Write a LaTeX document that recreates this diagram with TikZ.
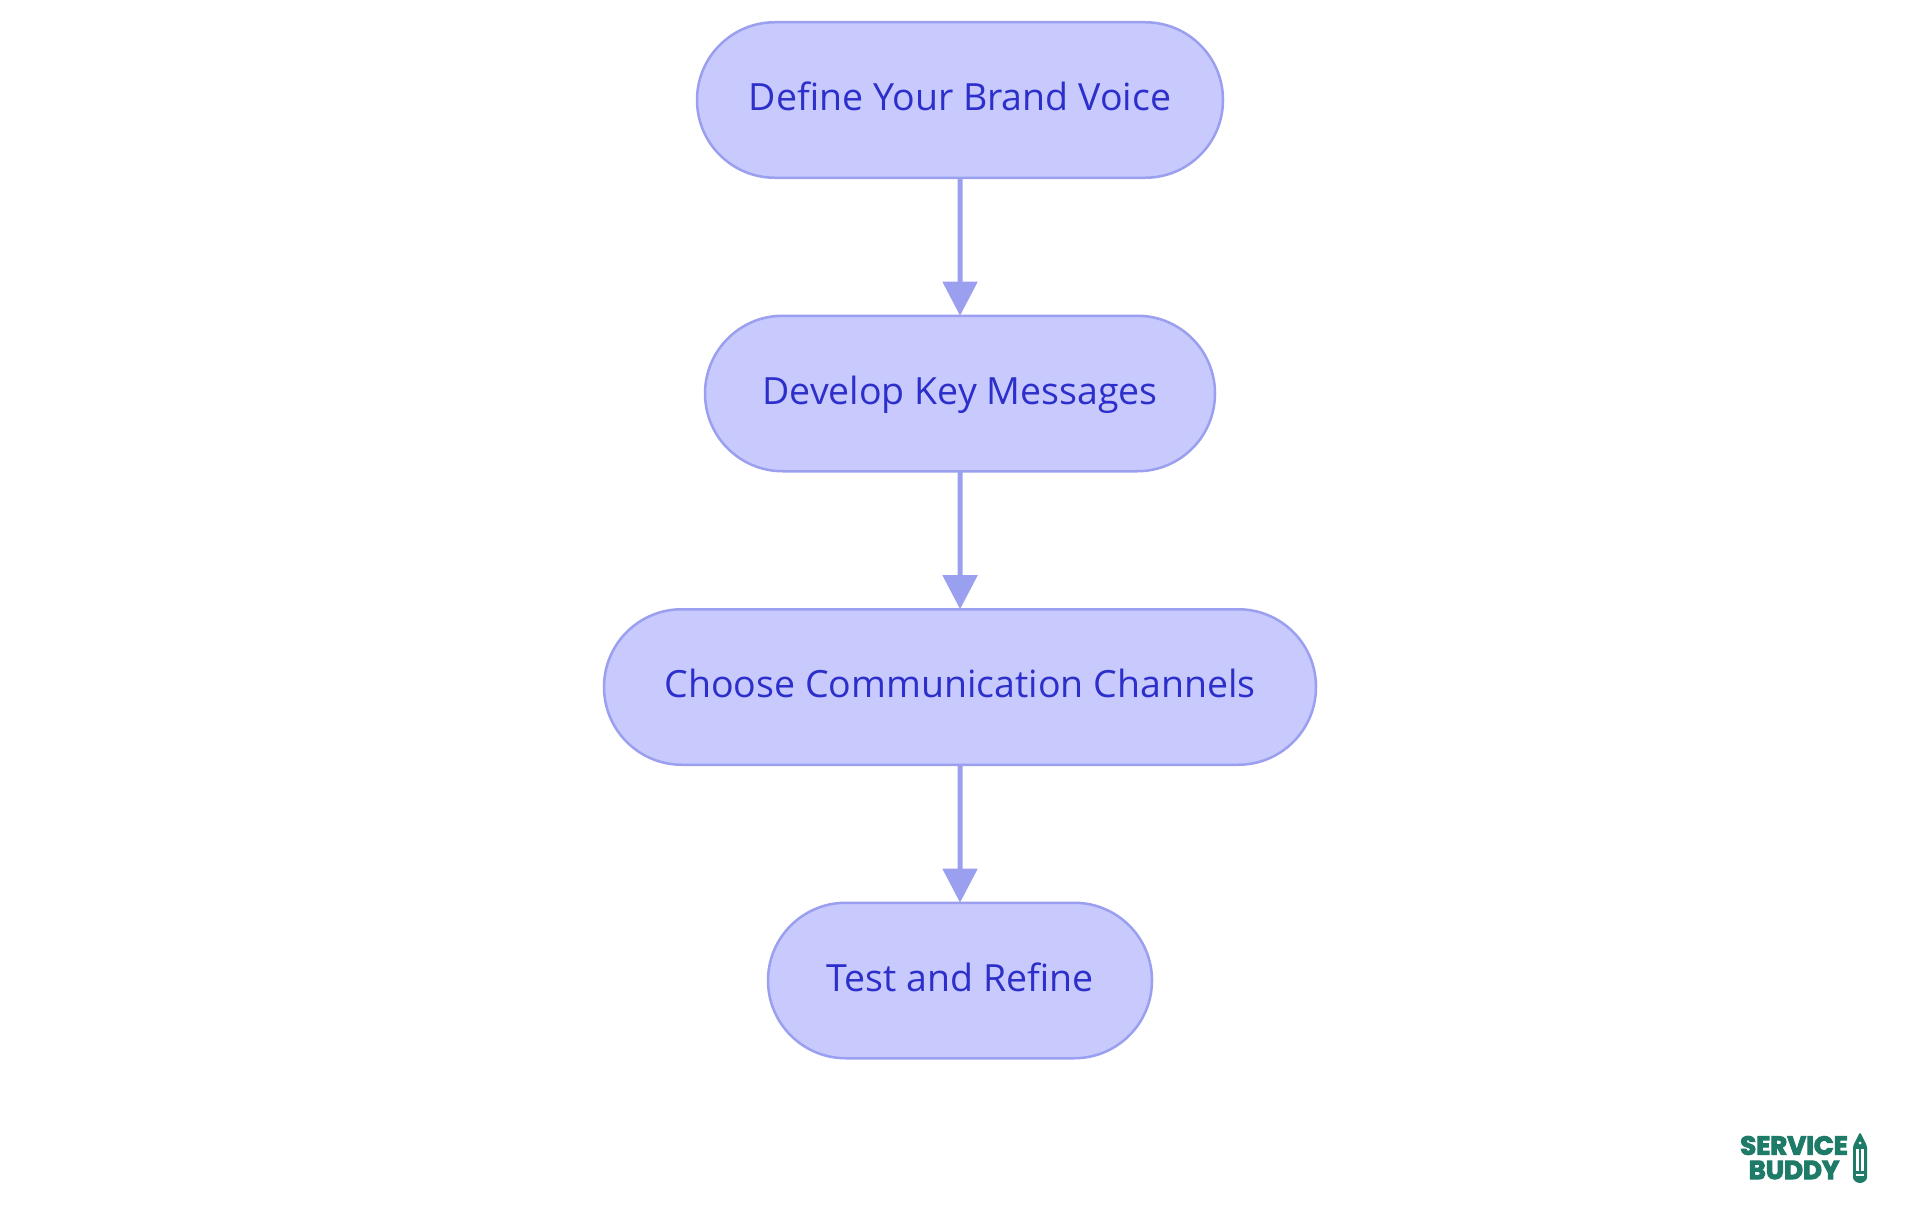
\documentclass[tikz,border=0pt]{standalone}
\usepackage{fontspec}
\setmainfont{Open Sans}
\newfontfamily\logofont[FakeBold=4]{Poppins}
\usetikzlibrary{positioning, arrows.meta, shapes.misc}

\definecolor{boxfill}{HTML}{C8C9FD}
\definecolor{boxline}{HTML}{9A9FF0}
\definecolor{boxtext}{HTML}{2C2FC9}
\definecolor{logogreen}{HTML}{1E7B68}

\tikzset{
  stepbox/.style={rounded rectangle, draw=boxline, fill=boxfill, text=boxtext, line width=2.5pt,
    minimum height=155.5pt, inner xsep=0pt, outer sep=0pt, text height=30.5pt, text depth=8.6pt,
    font=\fontsize{37.5}{45}\selectfont},
  flow/.style={draw=boxline, line width=5pt, -{Triangle[length=34pt,width=34pt]}},
  logotext/.style={text=logogreen, inner sep=0pt, font=\logofont\bfseries\fontsize{26}{30}\selectfont}
}

\begin{document}
\begin{tikzpicture}[x=1pt, y=1pt, node distance=138pt]
      \useasboundingbox (0,0) rectangle (1920,-1215);

      \node[stepbox, minimum width=526pt] (define) at (960,-100) {Define Your Brand Voice};
      \node[stepbox, minimum width=510pt, below=of define] (develop) {Develop Key Messages};
      \node[stepbox, minimum width=712pt, below=of develop] (choose) {Choose Communication Channels};
      \node[stepbox, minimum width=384pt, below=of choose] (test) {Test and Refine};

      \draw[flow] (define) -- (develop);
      \draw[flow] (develop) -- (choose);
      \draw[flow] (choose) -- (test);

      % logo in the corner
      \node[logotext] (service) at (1794,-1145.5) {SERVICE};
      \node[logotext] (buddy) at (1794,-1170) {BUDDY};
      \fill[logogreen, rounded corners=1.5pt] (1860,-1132) -- (1867,-1146) -- (1867,-1176)
        arc[start angle=0, end angle=-180, radius=7] -- (1853,-1146) -- cycle;
      \fill[white] (1856,-1149) rectangle (1858.8,-1171);
      \fill[white] (1861.2,-1149) rectangle (1864,-1171);
      \fill[white] (1856,-1174) rectangle (1864,-1176);
      \fill[white] (1860,-1143) circle (1.5);
    \end{tikzpicture}
\end{document}
